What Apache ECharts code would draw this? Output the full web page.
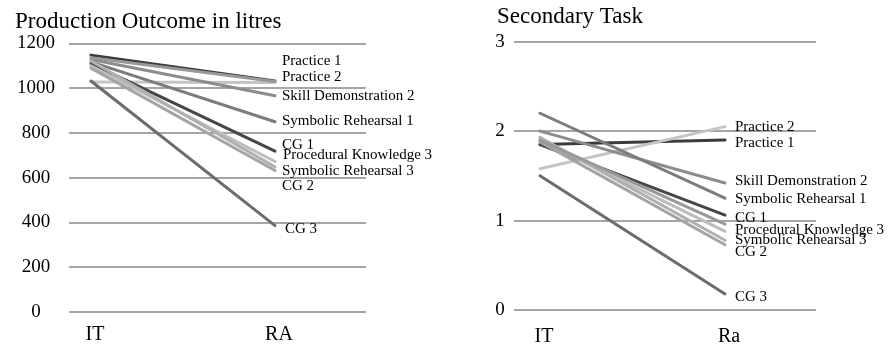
<!DOCTYPE html>
<html>
<head>
<meta charset="utf-8">
<script src="https://cdn.jsdelivr.net/npm/echarts@6/dist/echarts.min.js"></script>
<style>
  html, body { margin: 0; padding: 0; background: #fff; }
  #chart { width: 894px; height: 349px; }
</style>
</head>
<body>
<div id="chart"></div>
<script>
// data
var seriesNames = ['Practice 1', 'Practice 2', 'Skill Demonstration 2', 'Symbolic Rehearsal 1', 'CG 1',
    'Procedural Knowledge 3', 'Symbolic Rehearsal 3', 'CG 2', 'CG 3', ''];
var prodCats = ['IT', 'RA'];
var secCats = ['IT', 'Ra'];
var prodIT = [1148, 1028, 1128, 1118, 1110, 1100, 1122, 1090, 1032, 1136];
var prodRA = [1032, 1025, 966, 850, 718, 672, 648, 632, 385, 1030];
var secIT = [1.85, 1.58, 2.00, 2.20, 1.85, 1.90, 1.93, 1.88, 1.50, 1.90];
var secRa = [1.90, 2.05, 1.42, 1.25, 1.06, 0.88, 0.78, 0.73, 0.18, 0.96];

// styling
var colors = ['#3c3c3c', '#c4c4c4', '#8c8c8c', '#7c7c7c', '#464646', '#bdbdbd', '#b0b0b0', '#a4a4a4', '#6c6c6c', '#989898'];
var prodLabelOffset = [[7, -20], [7, -6], [7, 0], [7, -1], [7, -6], [8, -6], [7, 4], [7, 16], [10, 3], [0, 0]];
var secLabelOffset = [[10, 3], [10, 0], [10, -2], [10, 1], [10, 3], [10, -1], [10, 0], [10, 7], [10, 3], [0, 0]];

var serif = 'Liberation Serif';
var myChart = echarts.init(document.getElementById('chart'));

function xAxisFor(idx, cats, min, max, margin) {
    return {
        gridIndex: idx, type: 'value', min: min, max: max,
        axisLine: { show: false }, axisTick: { show: false }, splitLine: { show: false },
        axisLabel: {
            customValues: [0, 1], margin: margin, padding: [0, 0, 0, 8],
            fontFamily: serif, fontSize: 20, color: '#000',
            formatter: function (v) { return cats[Math.round(v)]; }
        }
    };
}

function yAxisFor(idx, max, interval, margin) {
    return {
        gridIndex: idx, type: 'value', min: 0, max: max, interval: interval,
        axisLine: { show: false }, axisTick: { show: false },
        splitLine: { lineStyle: { color: '#878787', width: 1.5 } },
        axisLabel: {
            margin: margin, align: 'center', fontFamily: serif, fontSize: 19, color: '#000',
            formatter: function (v) { return String(v); }
        }
    };
}

var series = [];
seriesNames.forEach(function (name, i) {
    series.push({
        name: name, type: 'line', xAxisIndex: 0, yAxisIndex: 0,
        data: [[0, prodIT[i]], [1, prodRA[i]]],
        showSymbol: false, silent: true,
        lineStyle: { color: colors[i], width: 3, cap: 'round' },
        endLabel: {
            show: name !== '', formatter: '{a}', distance: 0, offset: prodLabelOffset[i],
            fontFamily: serif, fontSize: 15, color: '#000'
        }
    });
    series.push({
        name: name, type: 'line', xAxisIndex: 1, yAxisIndex: 1,
        data: [[0, secIT[i]], [1, secRa[i]]],
        showSymbol: false, silent: true,
        lineStyle: { color: colors[i], width: 3, cap: 'round' },
        endLabel: {
            show: name !== '', formatter: '{a}', distance: 0, offset: secLabelOffset[i],
            fontFamily: serif, fontSize: 15, color: '#000'
        }
    });
});

option = {
    backgroundColor: '#fff',
    animation: false,
    title: [
        { text: 'Production Outcome in litres', left: 10, top: 5,
          textStyle: { fontFamily: serif, fontSize: 23, fontWeight: 'normal', color: '#000' } },
        { text: 'Secondary Task', left: 492, top: 0,
          textStyle: { fontFamily: serif, fontSize: 23, fontWeight: 'normal', color: '#000' } }
    ],
    grid: [
        { left: 69, width: 297, top: 43.5, height: 268.2 },
        { left: 514, width: 302, top: 41.7, height: 268.3 }
    ],
    xAxis: [
        xAxisFor(0, prodCats, -0.1196, 1.4946, 13),
        xAxisFor(1, secCats, -0.1405, 1.492, 17)
    ],
    yAxis: [
        yAxisFor(0, 1200, 200, 33),
        yAxisFor(1, 3, 1, 14)
    ],
    series: series
};

myChart.setOption(option);
</script>
</body>
</html>
